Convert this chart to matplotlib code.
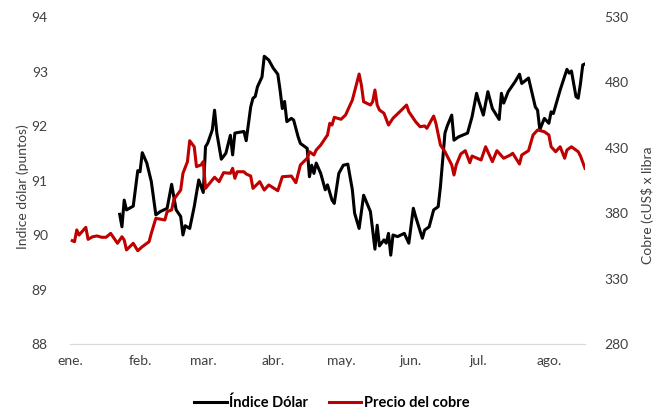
import pandas as pd
import matplotlib
matplotlib.use("Agg")
import matplotlib.pyplot as plt
from matplotlib.lines import Line2D

# dias contados desde el 1 de enero de 2021
dolar_dia = [22, 23, 24, 25, 28, 30, 31, 32, 34, 36, 38, 40, 43, 45, 47, 49, 50, 51, 53, 55,
             57, 59, 60, 61, 63, 64, 65, 67, 69, 71, 72, 73, 77, 78, 80, 81, 82, 83, 85, 86,
             88, 90, 92, 93, 94, 95, 96, 98, 99, 101, 102, 105, 106, 107, 108, 109, 111, 113, 114, 116,
             117, 119, 121, 123, 125, 126, 128, 130, 133, 134, 135, 136, 137, 139, 140, 141, 142, 143, 145, 148,
             150, 152, 153, 156, 157, 159, 161, 163, 164, 166, 167, 169, 170, 172, 176, 178, 180, 181, 183, 185,
             187, 190, 191, 192, 194, 195, 197, 199, 200, 203, 206, 207, 208, 210, 212, 213, 214, 217, 220, 221,
             222, 224, 225, 226, 227, 228]
dolar_valor = [90.38, 90.15, 90.64, 90.46, 90.53, 91.18, 91.16, 91.51, 91.32, 90.98, 90.37, 90.43, 90.49, 90.93, 90.46, 90.34, 90.00, 90.17, 90.12, 90.52,
               91.01, 90.78, 91.62, 91.69, 91.93, 92.29, 91.87, 91.39, 91.50, 91.83, 91.47, 91.87, 91.90, 91.73, 92.35, 92.51, 92.54, 92.72, 92.90, 93.28,
               93.21, 93.06, 92.95, 92.66, 92.32, 92.45, 92.08, 92.14, 92.11, 91.80, 91.68, 91.59, 91.07, 91.28, 91.13, 91.32, 91.13, 90.83, 90.92, 90.64,
               90.58, 91.13, 91.28, 91.30, 90.83, 90.40, 90.12, 90.73, 90.43, 90.09, 89.74, 90.18, 89.80, 89.91, 89.85, 90.03, 89.63, 90.00, 89.97, 90.03,
               89.85, 90.49, 90.34, 89.94, 90.09, 90.15, 90.46, 90.52, 90.89, 91.87, 92.00, 92.20, 91.74, 91.80, 91.87, 92.17, 92.60, 92.45, 92.20, 92.63,
               92.32, 92.12, 92.60, 92.42, 92.63, 92.69, 92.81, 92.95, 92.78, 92.88, 92.35, 92.29, 91.93, 92.14, 92.05, 92.26, 92.23, 92.66, 93.04, 92.97,
               93.01, 92.54, 92.51, 92.78, 93.12, 93.14]

cobre_dia = [1, 2, 3, 4, 7, 8, 10, 12, 14, 16, 18, 21, 23, 24, 25, 28, 30, 32, 35, 36,
             38, 42, 43, 45, 46, 49, 50, 52, 53, 55, 56, 58, 59, 60, 63, 64, 66, 68, 71, 72,
             73, 74, 77, 78, 80, 81, 84, 86, 88, 92, 94, 98, 100, 102, 105, 106, 108, 109, 111, 114,
             115, 116, 117, 120, 122, 125, 128, 129, 130, 133, 134, 135, 136, 137, 139, 141, 143, 146, 149, 150,
             153, 155, 157, 158, 161, 162, 164, 166, 169, 170, 171, 173, 175, 177, 178, 182, 184, 187, 189, 192,
             195, 196, 199, 200, 203, 205, 207, 210, 212, 213, 215, 217, 219, 220, 222, 225, 226, 228]
cobre_valor = [359.0, 358.2, 367.2, 363.3, 369.2, 360.0, 362.0, 362.6, 361.6, 361.6, 364.6, 357.0, 362.0, 359.5, 351.9, 357.0, 351.3, 354.4, 358.2, 364.6,
               376.1, 374.8, 381.2, 382.5, 390.6, 397.7, 410.5, 419.4, 435.4, 430.8, 415.6, 416.9, 419.4, 399.0, 405.4, 407.5, 404.1, 411.0, 410.5, 414.3,
               406.7, 411.7, 411.7, 410.0, 408.4, 399.0, 404.1, 397.7, 401.6, 397.2, 407.9, 408.4, 403.3, 416.9, 422.0, 427.0, 424.5, 428.3, 432.1, 439.8,
               448.7, 447.4, 453.3, 451.8, 455.1, 466.5, 486.4, 478.0, 465.2, 462.7, 465.2, 474.2, 462.7, 458.9, 456.4, 447.4, 452.6, 457.6, 462.7, 457.6,
               450.0, 446.1, 446.7, 444.9, 454.3, 448.7, 432.1, 427.0, 416.9, 409.2, 416.9, 425.3, 427.8, 418.6, 423.7, 420.7, 430.8, 419.4, 427.8, 422.0,
               424.5, 425.8, 417.6, 424.5, 427.8, 439.8, 443.6, 442.3, 439.8, 430.8, 427.0, 430.8, 422.0, 428.3, 430.8, 427.0, 423.7, 414.3]

meses = ["ene.", "feb.", "mar.", "abr.", "may.", "jun.", "jul.", "ago."]

plt.rcParams['font.family'] = ['Lato', 'DejaVu Sans']

inicio = pd.Timestamp("2021-01-01")
dolar_fecha = inicio + pd.to_timedelta(dolar_dia, unit="D")
cobre_fecha = inicio + pd.to_timedelta(cobre_dia, unit="D")
ticks_mes = pd.date_range(inicio, periods=len(meses), freq="MS")

gris = "#404040"
rojo = "#C00000"

fig = plt.figure(figsize=(6.65, 4.11), dpi=100)
ax = fig.add_axes([70 / 665, 1 - 344 / 411, 515 / 665, 327 / 411])
ax2 = ax.twinx()

ax.plot(dolar_fecha, dolar_valor, color="black", lw=2.2, zorder=3)
ax2.plot(cobre_fecha, cobre_valor, color=rojo, lw=2.2, zorder=3)

ax.set_ylim(88, 94)
ax.set_yticks(range(88, 95))
ax2.set_ylim(280, 530)
ax2.set_yticks(range(280, 531, 50))
ax.set_xlim(inicio, inicio + pd.Timedelta(days=228))
ax.set_xticks(ticks_mes)
ax.set_xticklabels(meses)

# sin grilla, solo la linea base del eje x
for a in (ax, ax2):
    for s in a.spines.values():
        s.set_visible(False)
    a.tick_params(length=0, labelsize=10, colors=gris)
ax.spines["bottom"].set_visible(True)
ax.spines["bottom"].set_color("#d9d9d9")
ax.spines["bottom"].set_linewidth(0.9)
ax.tick_params(axis="y", pad=16)
ax.tick_params(axis="x", pad=8)
ax2.tick_params(axis="y", pad=14)

fig.text(23 / 665, 1 - 187 / 411, "Indice dólar (puntos)", rotation=90,
         ha="center", va="center", fontsize=10, color=gris)
fig.text(647 / 665, 1 - 205 / 411, "Cobre (cUS$ x libra", rotation=90,
         ha="center", va="center", fontsize=10, color=gris)

handles = [Line2D([], [], color="black", lw=2.2),
           Line2D([], [], color=rojo, lw=2.2)]
fig.legend(handles, ["Índice Dólar", "Precio del cobre"], loc="center",
           bbox_to_anchor=(332 / 665, 1 - 403 / 411), ncol=2, frameon=False,
           prop={"weight": "bold", "size": 10.5}, handlelength=2.2,
           handletextpad=0.2, columnspacing=1.4)

fig.savefig("out.png", dpi=100)
